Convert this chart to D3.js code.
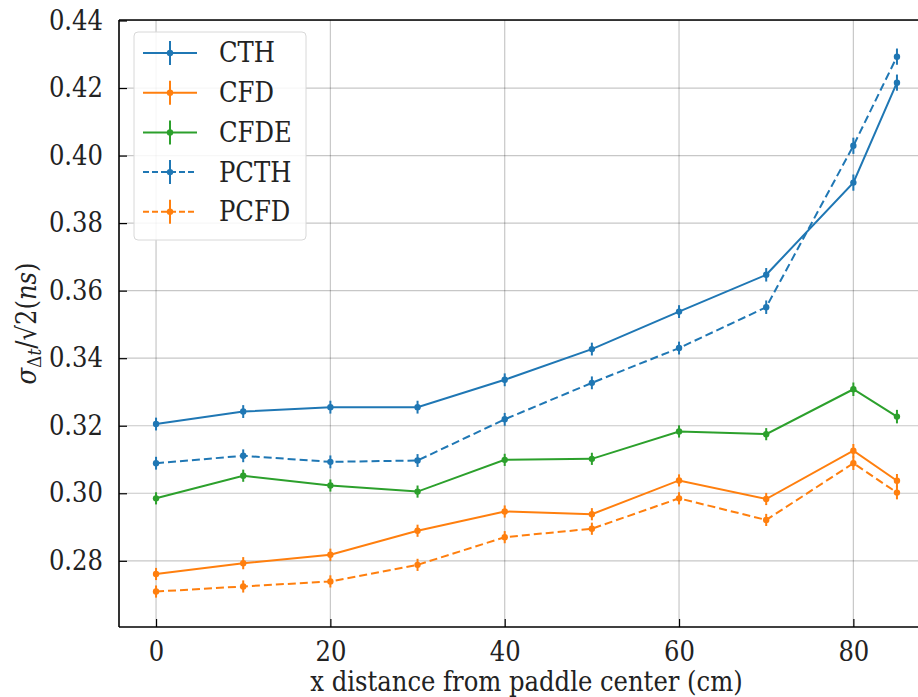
<!DOCTYPE html>
<html lang="en">
<head>
    <meta charset="UTF-8"/>
    <title>Time resolution vs distance from paddle center</title>
    <script src="https://d3js.org/d3.v7.min.js"></script>
    <style>
        body { margin: 0; background: #fff; }
        svg text { font-family: "DejaVu Serif Condensed", "DejaVu Serif", serif; fill: #222; }
    </style>
</head>
<body>
    <script>
        var w = 918;
        var h = 697;

        // positions along the paddle (cm)
        var xValues = [0, 10, 20, 30, 40, 50, 60, 70, 80, 85];

        var cth  = [0.3205, 0.3242, 0.3255, 0.3255, 0.3336, 0.3427, 0.3538, 0.3647, 0.3920, 0.4216];
        var cfd  = [0.2761, 0.2793, 0.2818, 0.2889, 0.2946, 0.2938, 0.3038, 0.2983, 0.3126, 0.3037];
        var cfde = [0.2985, 0.3052, 0.3023, 0.3005, 0.3099, 0.3102, 0.3183, 0.3175, 0.3308, 0.3227];
        var pcth = [0.3089, 0.3111, 0.3093, 0.3097, 0.3219, 0.3327, 0.3430, 0.3551, 0.4029, 0.4293];
        var pcfd = [0.2709, 0.2724, 0.2739, 0.2788, 0.2870, 0.2895, 0.2985, 0.2921, 0.3089, 0.3002];

        // error bars (ns)
        var cthErr  = [0.0019, 0.0019, 0.0019, 0.0019, 0.0019, 0.0019, 0.0019, 0.0020, 0.0024, 0.0024];
        var cfdErr  = [0.0018, 0.0018, 0.0018, 0.0018, 0.0018, 0.0018, 0.0018, 0.0018, 0.0020, 0.0020];
        var cfdeErr = [0.0018, 0.0018, 0.0018, 0.0018, 0.0018, 0.0018, 0.0018, 0.0018, 0.0020, 0.0020];
        var pcthErr = [0.0019, 0.0019, 0.0019, 0.0019, 0.0019, 0.0019, 0.0019, 0.0020, 0.0024, 0.0024];
        var pcfdErr = [0.0018, 0.0018, 0.0018, 0.0018, 0.0018, 0.0018, 0.0018, 0.0018, 0.0020, 0.0020];

        var seriesNames = ["CTH", "CFD", "CFDE", "PCTH", "PCFD"];
        var xTicks = [0, 20, 40, 60, 80];
        var yTicks = [0.28, 0.30, 0.32, 0.34, 0.36, 0.38, 0.40, 0.42, 0.44];

        var series = [
            {name: seriesNames[0], values: cth,  err: cthErr,  color: "#1f77b4", dash: null},
            {name: seriesNames[1], values: cfd,  err: cfdErr,  color: "#ff7f0e", dash: null},
            {name: seriesNames[2], values: cfde, err: cfdeErr, color: "#2ca02c", dash: null},
            {name: seriesNames[3], values: pcth, err: pcthErr, color: "#1f77b4", dash: "8,4"},
            {name: seriesNames[4], values: pcfd, err: pcfdErr, color: "#ff7f0e", dash: "8,4"}
        ];

        // plot area (the right spine falls outside the picture)
        var pLeft = 119, pTop = 20, pRight = 934, pBottom = 627;
        var fontFamily = "DejaVu Serif Condensed";
        var fontSize = "27px";

        var svg = d3.select("body")
                    .append("svg")
                    .attr("width", w)
                    .attr("height", h);

        var xScale = d3.scaleLinear()
            .domain([-4.25, 89.25])
            .range([pLeft, pRight]);

        var yScale = d3.scaleLinear()
            .domain([0.2604, 0.44015])
            .range([pBottom, pTop]);

        svg.append("clipPath")
            .attr("id", "plot-clip")
            .append("rect")
            .attr("x", pLeft)
            .attr("y", pTop)
            .attr("width", pRight - pLeft)
            .attr("height", pBottom - pTop);

        // === GRID ===
        var grid = svg.append("g");
        grid.selectAll(".gx")
            .data(xTicks)
            .enter().append("line")
            .attr("x1", d => xScale(d)).attr("x2", d => xScale(d))
            .attr("y1", pTop).attr("y2", pBottom)
            .attr("stroke", "#000").attr("stroke-opacity", 0.22).attr("stroke-width", 1.2);
        grid.selectAll(".gy")
            .data(yTicks)
            .enter().append("line")
            .attr("x1", pLeft).attr("x2", pRight)
            .attr("y1", d => yScale(d)).attr("y2", d => yScale(d))
            .attr("stroke", "#000").attr("stroke-opacity", 0.22).attr("stroke-width", 1.2);

        // === AXES (ticks pointing inwards) ===
        var xAxis = d3.axisBottom(xScale)
            .tickValues(xTicks)
            .tickSize(-8)
            .tickPadding(15)
            .tickFormat(d3.format("d"));
        var gx = svg.append("g")
            .attr("transform", "translate(0," + pBottom + ")")
            .call(xAxis);

        var yAxis = d3.axisLeft(yScale)
            .tickValues(yTicks)
            .tickSize(-8)
            .tickPadding(16)
            .tickFormat(d3.format(".2f"));
        var gy = svg.append("g")
            .attr("transform", "translate(" + pLeft + ",0)")
            .call(yAxis);

        [gx, gy].forEach(function (g) {
            g.attr("font-family", fontFamily);
            g.select(".domain").remove();
            g.selectAll(".tick line").attr("stroke", "#000").attr("stroke-width", 1.2);
            g.selectAll(".tick text")
                .style("font-family", fontFamily)
                .attr("font-size", fontSize)
                .attr("fill", "#222");
        });

        // spines
        svg.append("line").attr("x1", pLeft).attr("x2", pLeft).attr("y1", pTop).attr("y2", pBottom)
            .attr("stroke", "#000").attr("stroke-width", 1.6);
        svg.append("line").attr("x1", pLeft).attr("x2", pRight).attr("y1", pBottom).attr("y2", pBottom)
            .attr("stroke", "#000").attr("stroke-width", 1.6);
        svg.append("line").attr("x1", pLeft).attr("x2", pRight).attr("y1", pTop).attr("y2", pTop)
            .attr("stroke", "#000").attr("stroke-width", 1.6);

        // === SERIES ===
        var line = d3.line()
            .x((d, i) => xScale(xValues[i]))
            .y(d => yScale(d));

        var plot = svg.append("g").attr("clip-path", "url(#plot-clip)");

        series.forEach(function (s) {
            var g = plot.append("g");
            g.append("path")
                .datum(s.values)
                .attr("d", line)
                .attr("fill", "none")
                .attr("stroke", s.color)
                .attr("stroke-width", 2)
                .attr("stroke-dasharray", s.dash);

            g.selectAll(".err")
                .data(s.values)
                .enter().append("line")
                .attr("x1", (d, i) => xScale(xValues[i]))
                .attr("x2", (d, i) => xScale(xValues[i]))
                .attr("y1", (d, i) => yScale(d - s.err[i]))
                .attr("y2", (d, i) => yScale(d + s.err[i]))
                .attr("stroke", s.color)
                .attr("stroke-width", 2);

            g.selectAll(".dot")
                .data(s.values)
                .enter().append("circle")
                .attr("cx", (d, i) => xScale(xValues[i]))
                .attr("cy", d => yScale(d))
                .attr("r", 3.2)
                .attr("fill", s.color);
        });

        // === LEGEND ===
        var legend = svg.append("g").attr("transform", "translate(134,32)");
        legend.append("rect")
            .attr("width", 172).attr("height", 208)
            .attr("rx", 4).attr("ry", 4)
            .attr("fill", "#fff").attr("fill-opacity", 0.85)
            .attr("stroke", "#d8d8d8").attr("stroke-width", 1);

        var items = legend.selectAll(".item")
            .data(series)
            .enter().append("g")
            .attr("transform", (d, i) => "translate(0," + (21 + i * 39.7) + ")");

        items.append("line")
            .attr("x1", 9).attr("x2", 63).attr("y1", 0).attr("y2", 0)
            .attr("stroke", d => d.color).attr("stroke-width", 2)
            .attr("stroke-dasharray", d => d.dash ? "6,3" : null);
        items.append("line")
            .attr("x1", 36).attr("x2", 36).attr("y1", -12).attr("y2", 12)
            .attr("stroke", d => d.color).attr("stroke-width", 2);
        items.append("circle")
            .attr("cx", 36).attr("cy", 0).attr("r", 3.2)
            .attr("fill", d => d.color);
        items.append("text")
            .attr("x", 85).attr("y", 0).attr("dy", "0.35em")
            .style("font-family", fontFamily)
            .attr("font-size", fontSize)
            .text(d => d.name);

        // === AXIS LABELS ===
        svg.append("text")
            .attr("x", (pLeft + pRight) / 2)
            .attr("y", 691)
            .attr("text-anchor", "middle")
            .style("font-family", fontFamily)
            .attr("font-size", fontSize)
            .text("x distance from paddle center (cm)");

        var yl = svg.append("text")
            .attr("transform", "translate(36," + ((pTop + pBottom) / 2) + ") rotate(-90)")
            .attr("text-anchor", "middle")
            .style("font-family", fontFamily)
            .attr("font-size", fontSize);
        yl.append("tspan").attr("font-style", "italic").text("σ");
        yl.append("tspan").attr("font-size", "19px").attr("dy", "5").text("Δ");
        yl.append("tspan").attr("font-size", "19px").attr("font-style", "italic").text("t");
        yl.append("tspan").attr("dy", "-5").text("/√2(");
        yl.append("tspan").attr("font-style", "italic").text("ns");
        yl.append("tspan").text(")");
    </script>
</body>
</html>
